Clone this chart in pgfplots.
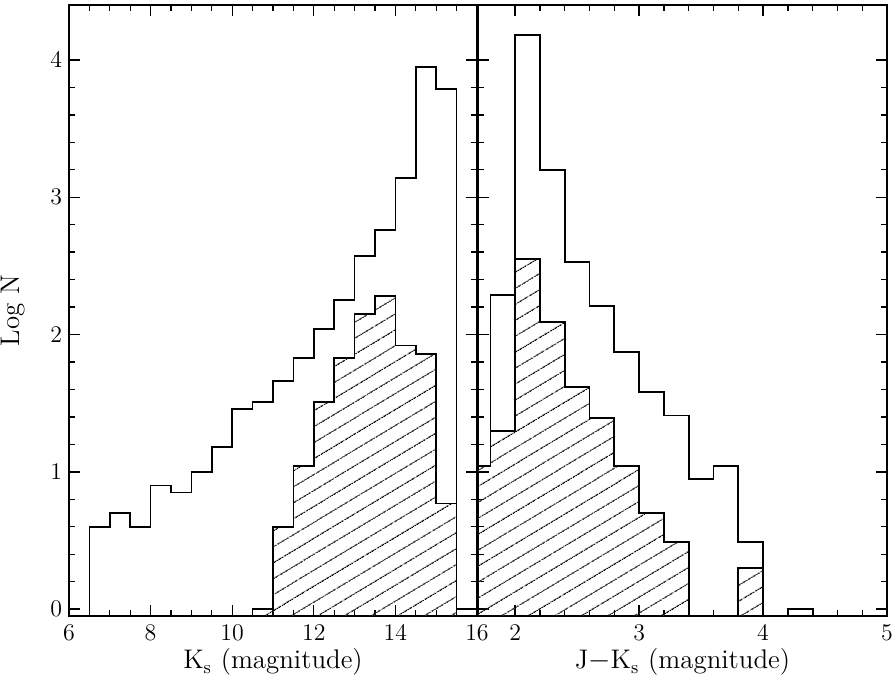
\documentclass[border=0pt]{standalone}
\usepackage{pgfplots}
\pgfplotsset{compat=1.18}
\usetikzlibrary{patterns.meta}

% shared look of both panels
\pgfplotsset{
  panel/.style={
    scale only axis,
    height=305.5bp,
    ymin=-0.05, ymax=4.4,
    ytick={0,1,2,3,4},
    minor y tick num=4,
    tick align=inside,
    major tick length=5.5bp,
    minor tick length=2.8bp,
    every tick/.style={black, line width=0.7pt},
    axis line style={line width=0.8pt},
    tick label style={font=\fontsize{12}{13}\selectfont},
    xticklabel style={yshift=-1bp},
    clip mode=individual,
  },
  hist/.style={const plot mark left, draw=black, line width=0.9pt, mark=none},
  hatch/.style={hist, pattern={Lines[angle=31, distance=6.8bp, line width=0.6pt]}},
}

\begin{document}
\begin{tikzpicture}
\useasboundingbox (0,0) rectangle (448bp,340bp);

% left panel: Ks
\begin{axis}[panel,
  at={(34.5bp,32bp)}, anchor=south west,
  width=204bp,
  xmin=6, xmax=16,
  xtick={6,8,10,12,14,16},
  minor x tick num=3,
]
\addplot[hist] coordinates {
  (6.5,-0.05) (6.5,0.60) (7,0.70) (7.5,0.60) (8,0.90) (8.5,0.85) (9,1.00)
  (9.5,1.18) (10,1.46) (10.5,1.51) (11,1.66) (11.5,1.83) (12,2.04)
  (12.5,2.25) (13,2.57) (13.5,2.76) (14,3.14) (14.5,3.95) (15,3.79)
  (15.5,0) (16,0) (16,-0.05)};
\addplot[hatch] coordinates {
  (10.5,-0.05) (10.5,0) (11,0.60) (11.5,1.04) (12,1.51) (12.5,1.83)
  (13,2.15) (13.5,2.28) (14,1.92) (14.5,1.86) (15,0.77) (15.5,-0.05)};
\node[font=\fontsize{13.5}{15}\selectfont, xshift=-28bp, rotate=90]
  at (axis description cs:0,0.5) {Log N};
\node[font=\fontsize{13.5}{15}\selectfont, yshift=-23bp]
  at (axis description cs:0.5,0) {K$_\mathrm{s}$ (magnitude)};
\end{axis}

% right panel: J-Ks
\begin{axis}[panel,
  at={(239bp,32bp)}, anchor=south west,
  width=204.5bp,
  xmin=1.7, xmax=5,
  xtick={2,3,4,5},
  minor x tick num=4,
  yticklabels={},
]
\addplot[hist] coordinates {
  (1.6,-0.05) (1.6,1.04) (1.8,2.29) (2.0,4.18) (2.2,3.20) (2.4,2.53)
  (2.6,2.21) (2.8,1.87) (3.0,1.58) (3.2,1.41) (3.4,0.95) (3.6,1.04)
  (3.8,0.49) (4.0,-0.05) (4.2,0) (4.4,-0.05)};
\addplot[hatch] coordinates {
  (1.6,-0.05) (1.6,1.04) (1.8,1.30) (2.0,2.55) (2.2,2.09) (2.4,1.62)
  (2.6,1.39) (2.8,1.04) (3.0,0.70) (3.2,0.49) (3.4,-0.05) (3.8,0.30)
  (4.0,-0.05)};
\node[font=\fontsize{13.5}{15}\selectfont, yshift=-23bp]
  at (axis description cs:0.5,0) {J$-$K$_\mathrm{s}$ (magnitude)};
\end{axis}
\end{tikzpicture}
\end{document}
